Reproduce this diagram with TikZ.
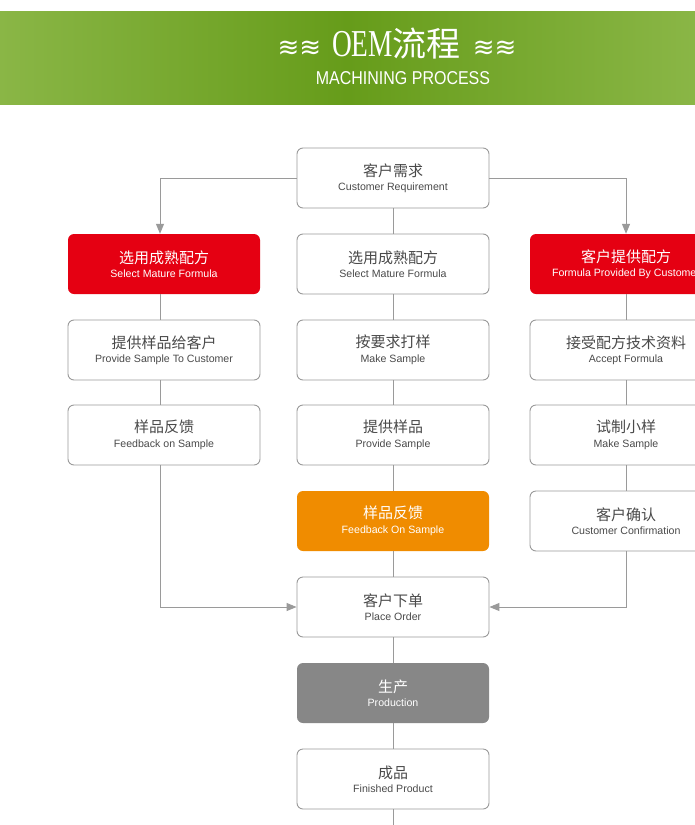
\documentclass[tikz,border=0pt]{standalone}
\usepackage{fontspec}
\setmainfont{Liberation Sans}
\newfontfamily\cjkf{Noto Sans CJK SC}
\newfontfamily\enf{Liberation Sans}
\newfontfamily\narrowf[FakeStretch=0.86]{Liberation Sans}
\newfontfamily\titlef[FakeStretch=0.72]{Liberation Serif}
\newfontfamily\symf{DejaVu Sans}
\usetikzlibrary{arrows.meta,calc}
\definecolor{linegray}{HTML}{9A9A9A}
\definecolor{boxred}{HTML}{E50012}
\definecolor{boxorange}{HTML}{F08C00}
\definecolor{boxgray}{HTML}{878787}
\definecolor{txtcjk}{HTML}{4A4A4A}
\definecolor{txten}{HTML}{3A3A3A}
\definecolor{gedge}{RGB}{138,182,70}
\definecolor{gmid}{RGB}{102,156,26}
\newcommand{\boxtext}[2]{{\fontsize{15}{15}\cjkf #1}\\[2.5pt]{\fontsize{10.6}{11}\enf #2}}
\tikzset{
  x=1pt,y=-1pt,
  basebox/.style={rounded corners=6pt,minimum width=192pt,minimum height=60pt,align=center,inner sep=0pt},
  whitebox/.style={basebox,draw=linegray,line width=0.9pt,fill=white,text=txtcjk},
  redbox/.style={basebox,fill=boxred,text=white},
  orangebox/.style={basebox,fill=boxorange,text=white},
  graybox/.style={basebox,fill=boxgray,text=white},
  conn/.style={draw=linegray,line width=1pt},
  arr/.style={conn,-{Triangle[length=10pt,width=8pt]}},
}
\begin{document}
\begin{tikzpicture}
\useasboundingbox (0,0) rectangle (695,825);
\clip (0,0) rectangle (695,825);
\fill[white] (0,0) rectangle (695,825);
% header band
\shade[left color=gedge,right color=gedge,middle color=gmid] (0,11) rectangle (695,104);
\node[text=white,inner sep=0pt] (title) at (397,44)
  {{\fontsize{26}{26}\symf ≋≋}\hspace{11pt}{\fontsize{38}{38}\titlef OEM}{\fontsize{34}{34}\cjkf 流程}\hspace{12pt}{\fontsize{26}{26}\symf ≋≋}};
\node[text=white,inner sep=0pt] (subtitle) at (403,78.5) {\fontsize{18.6}{19}\narrowf MACHINING PROCESS};
% column coordinates
\coordinate (lc) at (160,0);
% middle column
\node[whitebox] (req) at (393,178) {\boxtext{客户需求}{Customer Requirement}};
\node[whitebox] (m1) at (393,264) {\boxtext{选用成熟配方}{Select Mature Formula}};
\node[whitebox] (m2) at (393,350) {\boxtext{按要求打样}{Make Sample}};
\node[whitebox] (m3) at (393,435) {\boxtext{提供样品}{Provide Sample}};
\node[orangebox] (m4) at (393,521) {\boxtext{样品反馈}{Feedback On Sample}};
\node[whitebox] (order) at (393,607) {\boxtext{客户下单}{Place Order}};
\node[graybox] (prod) at (393,693) {\boxtext{生产}{Production}};
\node[whitebox] (fin) at (393,779) {\boxtext{成品}{Finished Product}};
\coordinate (bottom) at (393,826);
% left column
\node[redbox] (l1) at (164,264) {\boxtext{选用成熟配方}{Select Mature Formula}};
\node[whitebox] (l2) at (164,350) {\boxtext{提供样品给客户}{Provide Sample To Customer}};
\node[whitebox] (l3) at (164,435) {\boxtext{样品反馈}{Feedback on Sample}};
% right column
\node[redbox] (r1) at (626,264) {\boxtext{客户提供配方}{Formula Provided By Customer}};
\node[whitebox] (r2) at (626,350) {\boxtext{接受配方技术资料}{Accept Formula}};
\node[whitebox] (r3) at (626,435) {\boxtext{试制小样}{Make Sample}};
\node[whitebox] (r4) at (626,521) {\boxtext{客户确认}{Customer Confirmation}};
% connectors middle
\draw[conn] (req) -- (m1);
\draw[conn] (m1) -- (m2);
\draw[conn] (m2) -- (m3);
\draw[conn] (m3) -- (m4);
\draw[conn] (m4) -- (order);
\draw[conn] (order) -- (prod);
\draw[conn] (prod) -- (fin);
\draw[conn] (fin) -- (bottom);
% branches
\draw[arr] (req.west) -| (lc |- l1.north);
\draw[arr] (req.east) -| (r1.north);
\draw[conn] (lc |- l1.south) -- (lc |- l2.north);
\draw[conn] (lc |- l2.south) -- (lc |- l3.north);
\draw[conn] (r1) -- (r2);
\draw[conn] (r2) -- (r3);
\draw[conn] (r3) -- (r4);
\draw[arr] (lc |- l3.south) |- (order.west);
\draw[arr] (r4.south) |- (order.east);
\end{tikzpicture}
\end{document}
